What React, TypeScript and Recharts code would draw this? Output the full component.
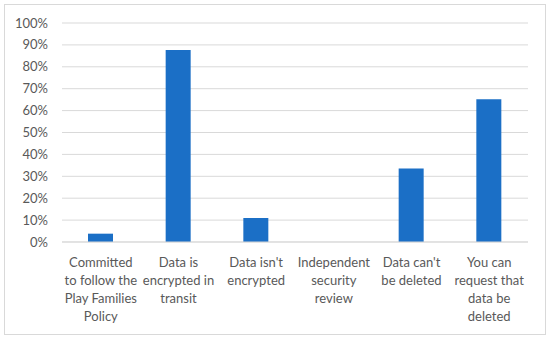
import { BarChart, Bar, XAxis, YAxis, CartesianGrid } from 'recharts';

const CATEGORY_LINES: string[][] = [
  ['Committed', 'to follow the', 'Play Families', 'Policy'],
  ['Data is', 'encrypted in', 'transit'],
  ["Data isn't", 'encrypted'],
  ['Independent', 'security', 'review'],
  ["Data can't", 'be deleted'],
  ['You can', 'request that', 'data be', 'deleted'],
];

const SHARES = [0.038, 0.877, 0.11, 0, 0.336, 0.652];

const Y_TICKS = [0, 0.1, 0.2, 0.3, 0.4, 0.5, 0.6, 0.7, 0.8, 0.9, 1];

const BAR_COLOR = '#1b6fc6';
const GRID_COLOR = '#d9d9d9';
const TEXT_COLOR = '#595959';
const FONT = 'Lato, "Open Sans", sans-serif';

const data = CATEGORY_LINES.map((lines, i) => ({
  name: lines.join(' '),
  value: SHARES[i],
}));

const linesByName = new Map(data.map((d, i) => [d.name, CATEGORY_LINES[i]]));

function CategoryTick({ x, y, payload }: any) {
  const lines = linesByName.get(payload.value) ?? [String(payload.value)];
  return (
    <text x={x} y={y} textAnchor="middle" fill={TEXT_COLOR} fontSize={13} fontFamily={FONT}>
      {lines.map((line, i) => (
        <tspan key={i} x={x} dy={i === 0 ? 24.5 : 18}>
          {line}
        </tspan>
      ))}
    </text>
  );
}

function PercentTick({ x, y, payload }: any) {
  return (
    <text x={x} y={y} dy={4.5} textAnchor="end" fill={TEXT_COLOR} fontSize={13} fontFamily={FONT}>
      {`${Math.round(payload.value * 100)}%`}
    </text>
  );
}

export default function App() {
  return (
    <div style={{ position: 'absolute', left: 0, top: 0, width: 550, height: 338, background: '#fff' }}>
      <div
        style={{
          position: 'absolute',
          left: 4,
          top: 4,
          width: 542,
          height: 331,
          border: `1px solid ${GRID_COLOR}`,
          boxSizing: 'border-box',
        }}
      />
      <div style={{ position: 'absolute', left: 0, top: 0 }}>
        <BarChart
          width={550}
          height={338}
          data={data}
          margin={{ top: 23, right: 22, bottom: 0, left: 0 }}
          barCategoryGap="0%"
        >
          <CartesianGrid vertical={false} stroke={GRID_COLOR} strokeWidth={1} />
          <XAxis
            dataKey="name"
            height={96}
            axisLine={{ stroke: GRID_COLOR }}
            tickLine={false}
            tickSize={0}
            tickMargin={0}
            interval={0}
            tick={<CategoryTick />}
          />
          <YAxis
            width={62}
            domain={[0, 1]}
            ticks={Y_TICKS}
            interval={0}
            axisLine={false}
            tickLine={false}
            tickSize={6}
            tickMargin={8}
            tick={<PercentTick />}
          />
          <Bar dataKey="value" fill={BAR_COLOR} barSize={25} isAnimationActive={false} />
        </BarChart>
      </div>
    </div>
  );
}
